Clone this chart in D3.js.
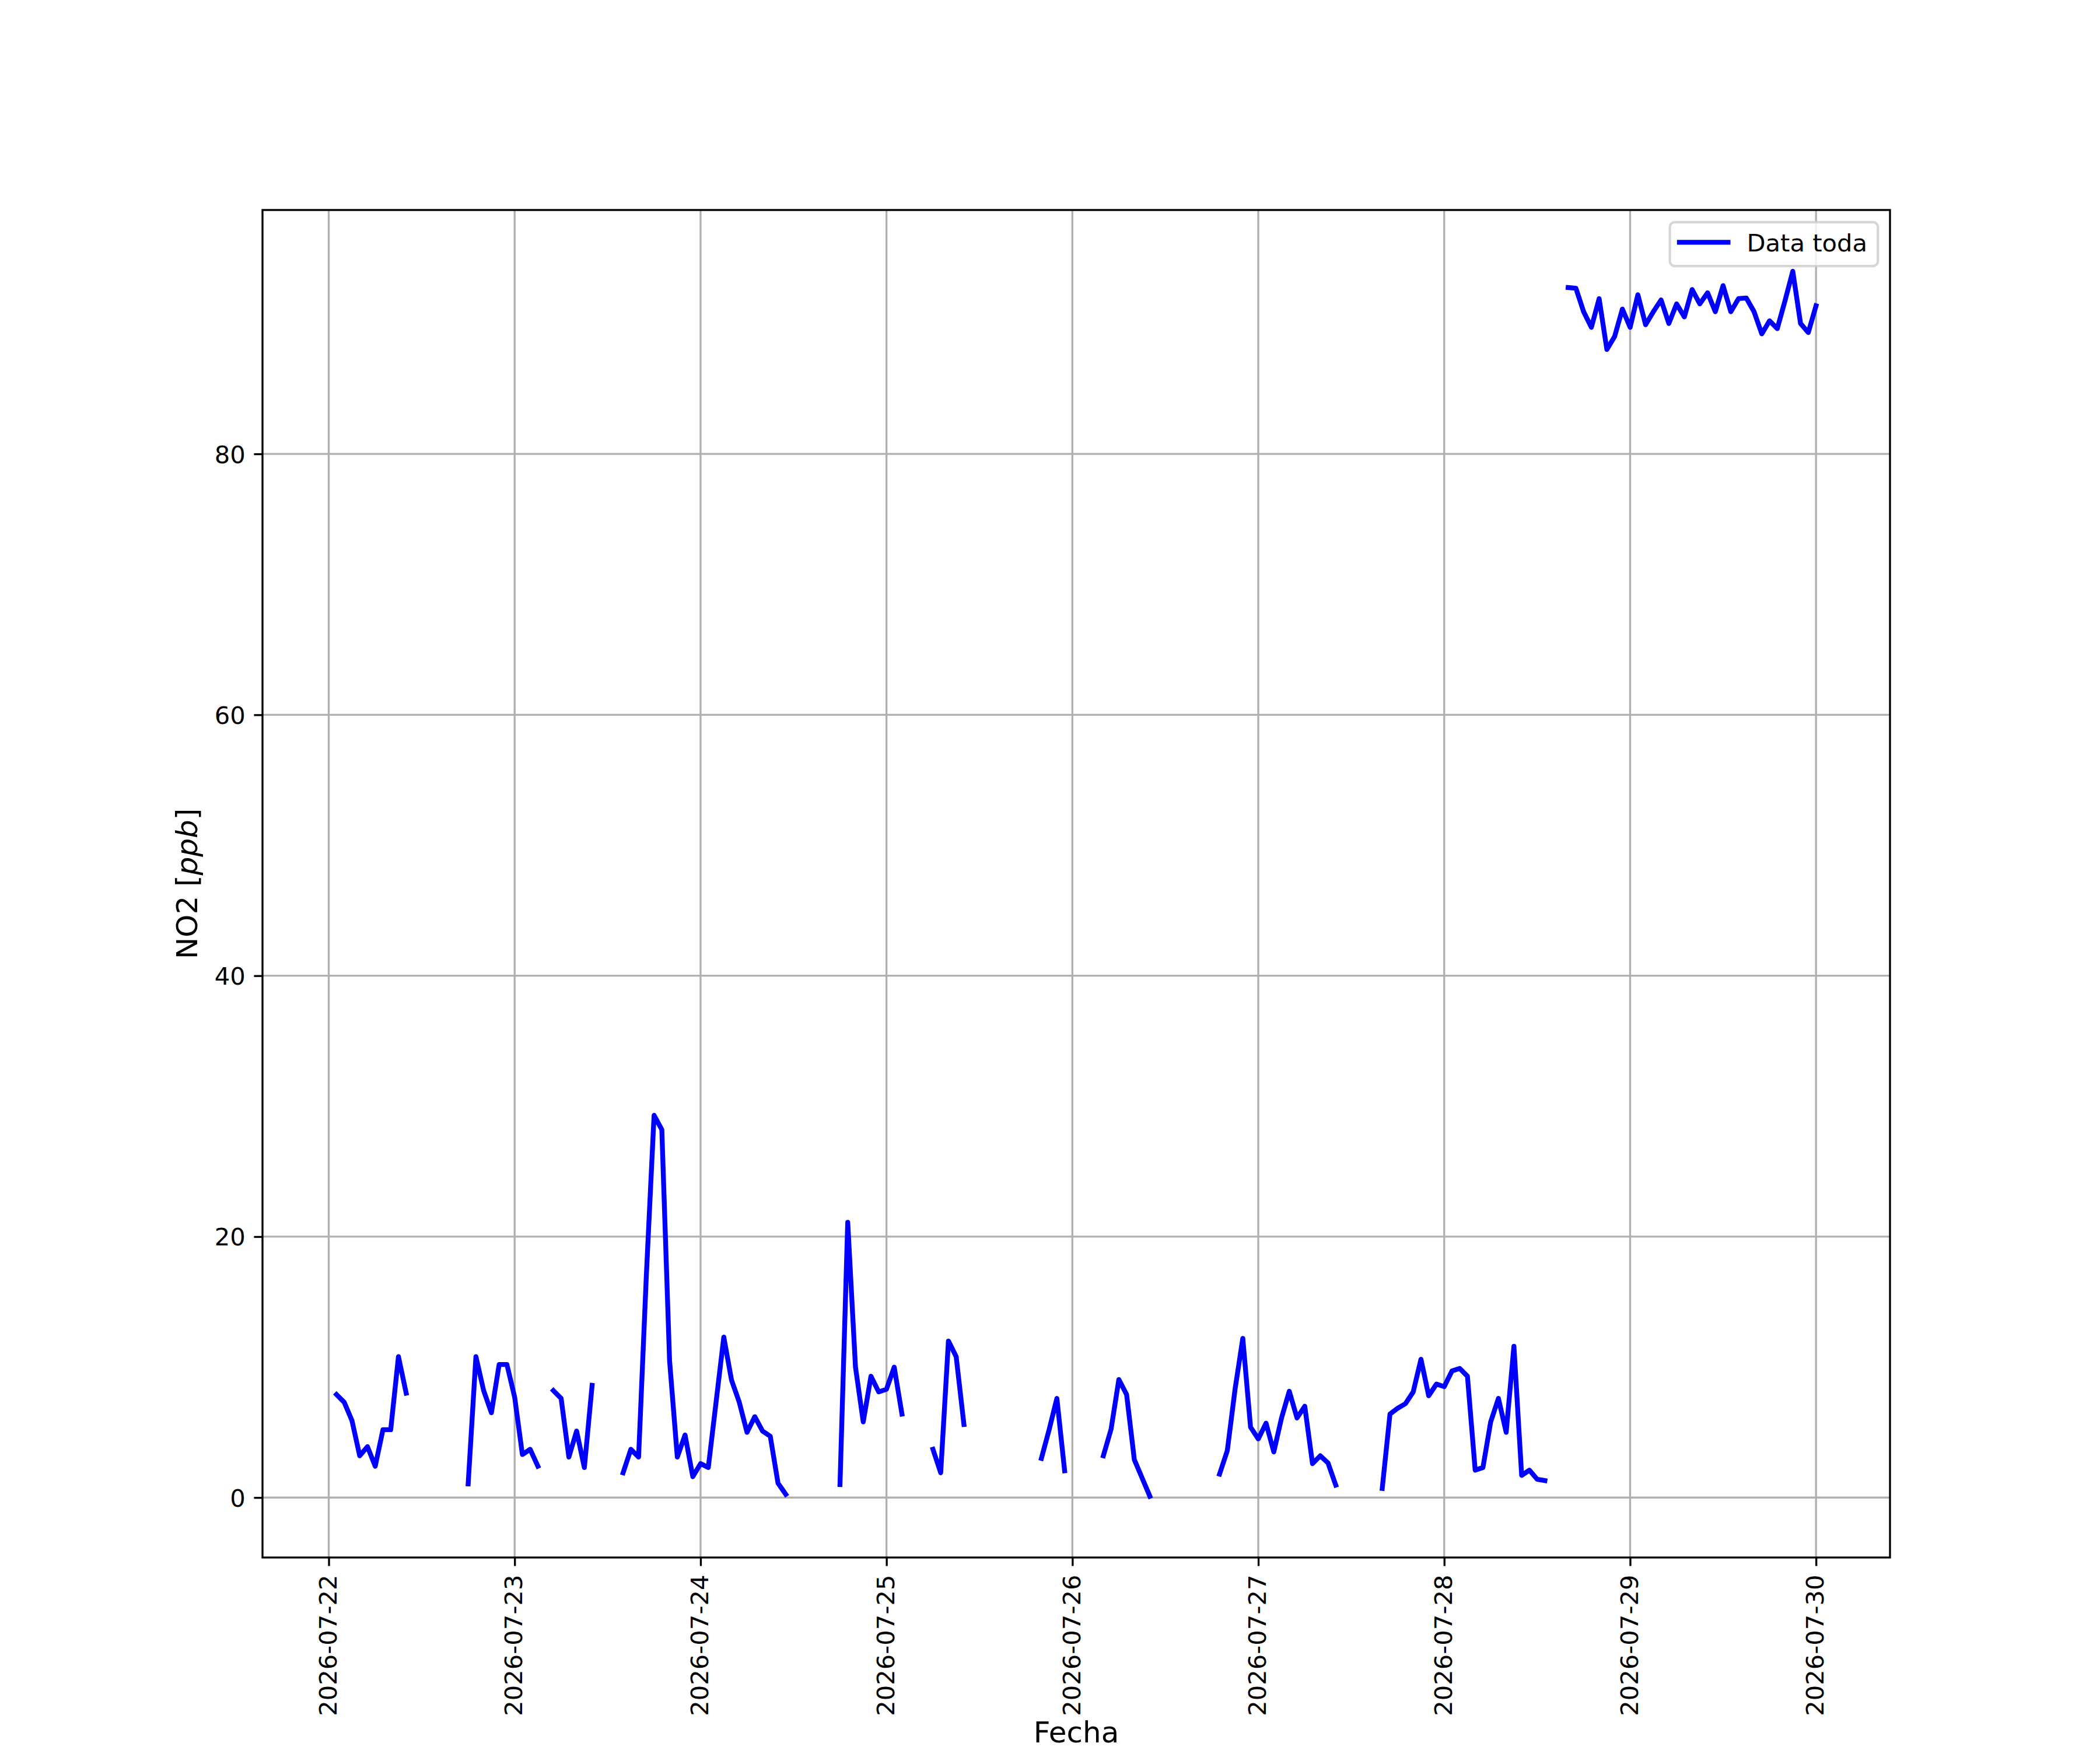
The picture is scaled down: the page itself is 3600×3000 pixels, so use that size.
<!DOCTYPE html>
<html>
<head>
<meta charset="utf-8">
<script src="https://cdn.jsdelivr.net/npm/d3@7"></script>
<style>
body { margin: 0; background: #fff; }
text { font-family: "DejaVu Sans", sans-serif; }
</style>
</head>
<body>
<svg id="chart" width="3600" height="3000"></svg>
<script>
// hourly NO2 readings, one array per run of data (gaps in between are NaN in the original)
var segmentStarts = ["2026-07-22T01:00", "2026-07-22T18:00", "2026-07-23T05:00", "2026-07-23T14:00",
	"2026-07-24T18:00", "2026-07-25T06:00", "2026-07-25T20:00", "2026-07-26T04:00",
	"2026-07-26T19:00", "2026-07-27T16:00", "2026-07-28T16:00"];
var seg1 = [7.9, 7.3, 5.9, 3.2, 3.9, 2.4, 5.2, 5.2, 10.8, 8.0];
var seg2 = [1.05, 10.8, 8.2, 6.5, 10.2, 10.2, 7.7, 3.3, 3.7, 2.4];
var seg3 = [8.2, 7.6, 3.1, 5.1, 2.3, 8.6];
var seg4 = [1.9, 3.7, 3.1, 17.0, 29.3, 28.2, 10.5, 3.1, 4.8, 1.6, 2.6, 2.3, 7.3, 12.3, 9.0, 7.3, 5.0, 6.2, 5.1, 4.7, 1.1, 0.25];
var seg5 = [1.0, 21.1, 10.0, 5.8, 9.3, 8.1, 8.3, 10.0, 6.4];
var seg6 = [3.7, 1.9, 12.0, 10.8, 5.6];
var seg7 = [3.0, 5.2, 7.6, 2.05];
var seg8 = [3.2, 5.25, 9.05, 7.9, 2.9, 1.5, 0.1];
var seg9 = [1.8, 3.6, 8.3, 12.2, 5.4, 4.5, 5.7, 3.5, 6.1, 8.15, 6.1, 7.0, 2.6, 3.2, 2.65, 0.95];
var seg10 = [0.7, 6.4, 6.85, 7.2, 8.1, 10.6, 7.8, 8.7, 8.5, 9.7, 9.9, 9.3, 2.1, 2.3, 5.8, 7.6, 5.0, 11.6, 1.7, 2.1, 1.4, 1.3];
var seg11 = [92.75, 92.7, 90.9, 89.7, 91.9, 88.0, 89.0, 91.1, 89.7, 92.2, 89.9, 90.9, 91.8, 90.0, 91.5, 90.5, 92.6,
	91.5, 92.35, 90.9, 92.9, 90.9, 91.9, 91.95, 90.9, 89.2, 90.2, 89.6, 91.75, 94.0, 90.0, 89.3, 91.35];
var segments = [seg1, seg2, seg3, seg4, seg5, seg6, seg7, seg8, seg9, seg10, seg11];
var yTicks = [0, 20, 40, 60, 80];
var seriesName = "Data toda";
var xTitle = "Fecha";

var svg = d3.select("#chart");
var axLeft = 450, axRight = 3240, axTop = 360, axBottom = 2670;
var fs = 41.67;          // 10pt at 300 dpi
var labelFs = 50;        // 12pt axis titles
var tickLen = 14.58, thin = 3.33, lineW = 8.33;

var parse = d3.utcParse("%Y-%m-%dT%H:%M");
var points = [];
segments.forEach(function (vals, i) {
	var start = parse(segmentStarts[i]);
	if (i > 0) points.push({t: start, v: null});
	vals.forEach(function (v, j) {
		points.push({t: d3.utcHour.offset(start, j), v: v});
	});
});
var real = points.filter(function (d) { return d.v != null; });

// matplotlib style 5% margins
var tExt = d3.extent(real, function (d) { return d.t; });
var tPad = (tExt[1] - tExt[0]) * 0.05;
var vExt = d3.extent(real, function (d) { return d.v; });
var vPad = (vExt[1] - vExt[0]) * 0.05;

var x = d3.scaleUtc()
	.domain([new Date(+tExt[0] - tPad), new Date(+tExt[1] + tPad)])
	.range([axLeft, axRight]);
var y = d3.scaleLinear()
	.domain([vExt[0] - vPad, vExt[1] + vPad])
	.range([axBottom, axTop]);

var xTicks = x.ticks(d3.utcDay.every(1));

// grid
var grid = svg.append("g").attr("stroke", "#b0b0b0").attr("stroke-width", thin);
grid.selectAll(".gx").data(xTicks).enter().append("line")
	.attr("x1", function (d) { return x(d); }).attr("x2", function (d) { return x(d); })
	.attr("y1", axTop).attr("y2", axBottom);
grid.selectAll(".gy").data(yTicks).enter().append("line")
	.attr("x1", axLeft).attr("x2", axRight)
	.attr("y1", function (d) { return y(d); }).attr("y2", function (d) { return y(d); });

// series
var line = d3.line()
	.defined(function (d) { return d.v != null; })
	.x(function (d) { return x(d.t); })
	.y(function (d) { return y(d.v); });
svg.append("path")
	.datum(points)
	.attr("d", line)
	.attr("fill", "none")
	.attr("stroke", "#0000ff")
	.attr("stroke-width", lineW)
	.attr("stroke-linejoin", "round")
	.attr("stroke-linecap", "square");

// axes
var xAxis = svg.append("g")
	.attr("transform", "translate(0," + axBottom + ")")
	.call(d3.axisBottom(x).tickValues(xTicks).tickFormat(d3.utcFormat("%Y-%m-%d"))
		.tickSize(tickLen).tickSizeOuter(0));
xAxis.select(".domain").remove();
xAxis.selectAll("line").attr("stroke", "#000").attr("stroke-width", thin);
xAxis.selectAll("text")
	.attr("font-family", "DejaVu Sans").attr("font-size", fs).attr("fill", "#000")
	.attr("transform", "rotate(-90)")
	.attr("text-anchor", "end")
	.attr("dy", null)
	.attr("x", -(tickLen + 15))
	.attr("y", 12.7);

var yAxis = svg.append("g")
	.attr("transform", "translate(" + axLeft + ",0)")
	.call(d3.axisLeft(y).tickValues(yTicks).tickSize(tickLen).tickPadding(tickLen).tickSizeOuter(0));
yAxis.select(".domain").remove();
yAxis.selectAll("line").attr("stroke", "#000").attr("stroke-width", thin);
yAxis.selectAll("text")
	.attr("font-family", "DejaVu Sans").attr("font-size", fs).attr("fill", "#000")
	.attr("dy", "0.36em");

// spines
svg.append("rect")
	.attr("x", axLeft).attr("y", axTop)
	.attr("width", axRight - axLeft).attr("height", axBottom - axTop)
	.attr("fill", "none").attr("stroke", "#000").attr("stroke-width", thin);

// axis titles
svg.append("text")
	.attr("x", (axLeft + axRight) / 2).attr("y", 2987)
	.attr("text-anchor", "middle").attr("font-size", labelFs)
	.text(xTitle);

var yl = svg.append("text")
	.attr("transform", "translate(338," + (axTop + axBottom) / 2 + ") rotate(-90)")
	.attr("text-anchor", "middle").attr("font-size", labelFs);
yl.append("tspan").text("NO2 [");
yl.append("tspan").attr("font-style", "italic").text("ppb");
yl.append("tspan").text("]");

// legend
var lg = svg.append("g").attr("transform", "translate(" + (axRight - 20.8) + "," + (axTop + 20.8) + ")");
var lw = 356.6, lh = 75.3;
lg.append("rect")
	.attr("x", -lw).attr("y", 0).attr("width", lw).attr("height", lh)
	.attr("rx", 8.3).attr("ry", 8.3)
	.attr("fill", "#fff").attr("fill-opacity", 0.8)
	.attr("stroke", "#cccccc").attr("stroke-opacity", 0.8).attr("stroke-width", 4.17);
lg.append("line")
	.attr("x1", -lw + 16.4).attr("x2", -lw + 16.4 + 83.3)
	.attr("y1", 34.5).attr("y2", 34.5)
	.attr("stroke", "#0000ff").attr("stroke-width", lineW).attr("stroke-linecap", "square");
lg.append("text")
	.attr("x", -lw + 15.3 + 83.3 + 33.3).attr("y", 50.3)
	.attr("font-size", fs)
	.text(seriesName);
</script>
</body>
</html>
